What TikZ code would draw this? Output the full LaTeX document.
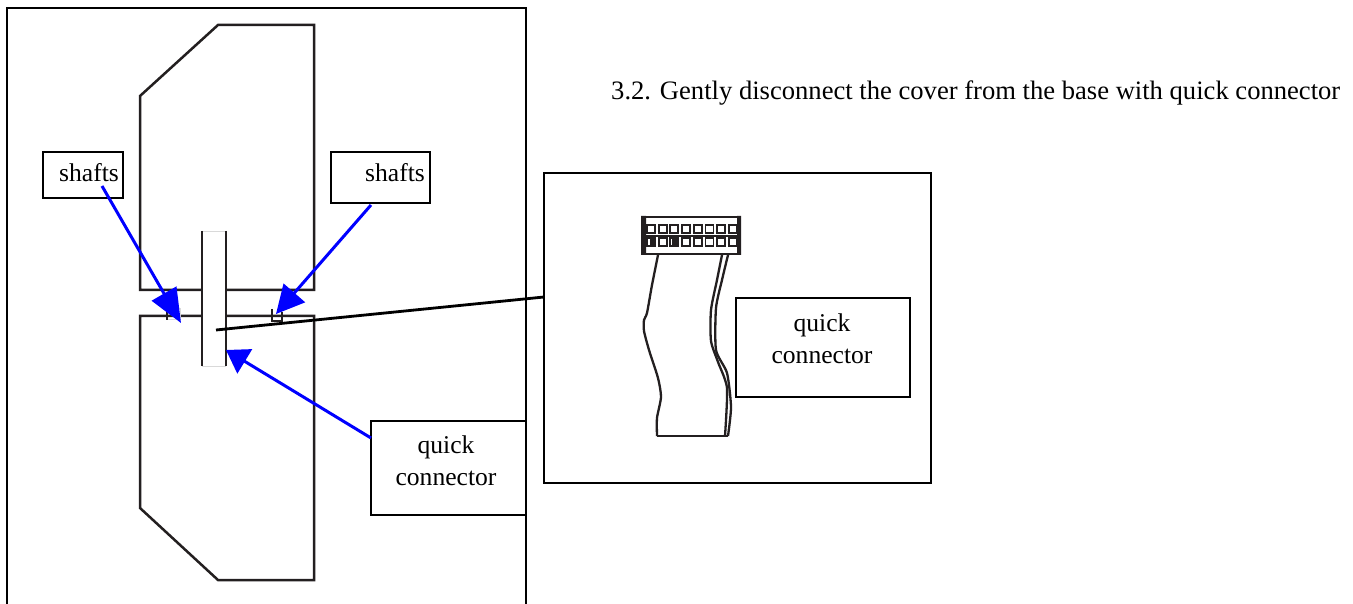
\documentclass[tikz,border=0pt]{standalone}
\usepackage{fontspec}
\setmainfont{Liberation Serif}
\usetikzlibrary{arrows.meta}
\definecolor{ink}{HTML}{231F20}
\definecolor{arrowblue}{HTML}{0000FF}
\tikzset{
  x=1pt,y=-1pt,
  frame/.style={draw=black,line width=2.6pt,fill=white},
  part/.style={draw=ink,line width=2.5pt,line join=miter},
  lbl/.style={font=\fontsize{25.6}{32}\selectfont,align=center,inner sep=0pt,text=black},
  labelbox/.style={draw=black,line width=2.6pt,fill=white,minimum width=0pt,inner sep=0pt},
  bluearrow/.style={draw=arrowblue,line width=3pt,-{Triangle[length=#1,width=28pt,fill=arrowblue]}},
  cable/.style={draw=ink,line width=2.3pt,line join=round},
  pin/.style={draw=ink,line width=1.6pt}
}
\begin{document}
\begin{tikzpicture}
\useasboundingbox (0,0) rectangle (1353,604);
\fill[white] (0,0) rectangle (1353,604);
% outer frame, open at the lower page edge
\draw[frame,fill=none] (7,604) -- (7,8) -- (526,8) -- (526,604);
% cover and base
\draw[part] (140,290) -- (140,96) -- (218,25) -- (314,25) -- (314,290) -- cycle;
\draw[part] (140,316) -- (140,508) -- (218,580) -- (314,580) -- (314,316) -- cycle;
% left shaft
\draw[draw=black!15,line width=1pt] (167,320) rectangle (180,309);
\draw[ink,line width=2.6pt] (167,309) -- (167,320);
% right shaft
\draw[ink,line width=2.6pt] (272,309) -- (272,321) -- (282,321) -- (282,312);
% quick connector strip
\fill[white] (202,232) rectangle (226,366);
\draw[black!15,line width=1pt] (202,232) -- (226,232) (202,366) -- (226,366);
\draw[ink,line width=2.8pt] (202,231) -- (202,366) (226,231) -- (226,366);
% label boxes
\node[labelbox,minimum width=80pt,minimum height=46pt] (sl) at (83,175) {};
\node[lbl] (slt) at (89,173) {shafts};
\node[labelbox,minimum width=99pt,minimum height=51pt] (sr) at (380.5,177.5) {};
\node[lbl] (srt) at (395,173) {shafts};
\node[labelbox,minimum width=155pt,minimum height=94pt] (ql) at (448.5,468) {};
\node[lbl] (qlt) at (446,461) {quick\\connector};
% detail box
\node[frame,minimum width=387pt,minimum height=310pt,inner sep=0pt] (detail) at (737.5,328) {};
\node[labelbox,minimum width=174pt,minimum height=99pt] (qr) at (823,347.5) {};
\node[lbl] (qrt) at (822,339) {quick\\connector};
% connectors
\coordinate (sla) at (181,323);
\coordinate (sra) at (276,314);
\coordinate (qa) at (226,350);
\coordinate (stripc) at (216,330);
\coordinate (slo) at (102,186);
\coordinate (sro) at (371,205);
\coordinate (qlo) at (371,438);
\coordinate (deta) at (544,297);
\draw[black,line width=2.8pt] (stripc) -- (deta);
\draw[bluearrow=34pt] (slo) -- (sla);
\draw[bluearrow=28pt] (sro) -- (sra);
\draw[bluearrow=22pt] (qlo) -- (qa);
% cable header
\draw[ink,line width=2.8pt] (642,217) rectangle (740,254);
\fill[ink] (641,216) rectangle (646,255) (737,216) rectangle (741,255);
\foreach \i in {0,...,7}{
  \draw[ink,line width=1.9pt] ({647+\i*11.7},225) rectangle ++(8,8);
  \draw[ink,line width=1.9pt] ({647+\i*11.7},238) rectangle ++(8,8);
}
\fill[ink] (646,235) rectangle (738,237);
\fill[ink] (650,238) rectangle (654,246) (672,238) rectangle (677,246);
% cable
\draw[cable] plot[smooth,tension=.4] coordinates {(658,255) (652,285) (647,313) (644,320) (644,331) (649,350) (658,378) (661,397) (657,418) (657,436)};
\draw[cable] (657,436) -- (728,436);
\draw[cable] plot[smooth,tension=.4] coordinates {(722,255) (717,280) (711,310) (711,341) (718,362) (727,388) (725,436)};
\draw[cable] plot[smooth,tension=.4] coordinates {(728,255) (722,280) (716,308) (716,350) (727,373) (731,407) (728,436)};
% caption
\node[lbl,anchor=base west,font=\fontsize{26.6}{32}\selectfont] (cap) at (611,100) {3.2. Gently disconnect the cover from the base with quick connector};
\end{tikzpicture}
\end{document}
